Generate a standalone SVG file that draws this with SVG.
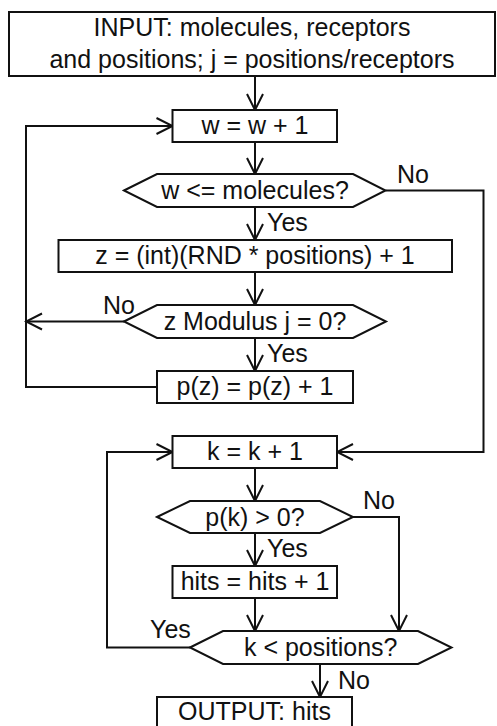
<svg xmlns="http://www.w3.org/2000/svg" width="497" height="726" viewBox="0 0 497 726">
<style>
.n{fill:#fff;stroke:#111;stroke-width:2}
.c{fill:none;stroke:#111;stroke-width:2}
text{font-family:"Liberation Sans",Arial,sans-serif;font-size:25px;fill:#111}
.m{text-anchor:middle}
</style>
<defs>
<marker id="arr" viewBox="-18 -10 20 20" refX="0" refY="0" markerWidth="20" markerHeight="20" markerUnits="userSpaceOnUse" orient="auto">
<path d="M-16,-8 L0,0 L-16,8" fill="none" stroke="#111" stroke-width="2"/>
</marker>
</defs>
<g id="connectors">
<path class="c" d="M255,76 V110" marker-end="url(#arr)"/>
<path class="c" d="M255,142 V174" marker-end="url(#arr)"/>
<path class="c" d="M255,207 V240" marker-end="url(#arr)"/>
<path class="c" d="M255,272 V305" marker-end="url(#arr)"/>
<path class="c" d="M255,338 V371" marker-end="url(#arr)"/>
<path class="c" d="M124,321.5 H26" marker-end="url(#arr)"/>
<path class="c" d="M157,387 H26 V126 H172.5" marker-end="url(#arr)"/>
<path class="c" d="M385.5,190.5 H483.5 V452 H337" marker-end="url(#arr)"/>
<path class="c" d="M255,468 V501" marker-end="url(#arr)"/>
<path class="c" d="M255,533 V566" marker-end="url(#arr)"/>
<path class="c" d="M255,598 V631" marker-end="url(#arr)"/>
<path class="c" d="M353,517 H399 V631" marker-end="url(#arr)"/>
<path class="c" d="M190,647.5 H107 V452 H172.5" marker-end="url(#arr)"/>
<path class="c" d="M320,664 V697" marker-end="url(#arr)"/>
<text x="397" y="183">No</text>
<text x="267" y="231">Yes</text>
<text x="103" y="314">No</text>
<text x="267" y="362">Yes</text>
<text x="363" y="509">No</text>
<text x="267" y="557">Yes</text>
<text x="150" y="638">Yes</text>
<text x="338" y="689">No</text>
</g>
<g id="input">
<rect class="n" x="9" y="12" width="486" height="64"/>
<text class="m" x="252" y="36">INPUT: molecules, receptors</text>
<text class="m" x="252" y="68">and positions; j = positions/receptors</text>
</g>
<g id="w_inc">
<rect class="n" x="172.5" y="110" width="164.5" height="32"/>
<text class="m" x="255" y="134">w = w + 1</text>
</g>
<g id="w_check">
<polygon class="n" points="124,190.5 157,174 353,174 385.5,190.5 353,207 157,207"/>
<text class="m" x="255" y="199">w &lt;= molecules?</text>
</g>
<g id="z_calc">
<rect class="n" x="58.5" y="240" width="393.5" height="32"/>
<text class="m" x="255" y="264">z = (int)(RND * positions) + 1</text>
</g>
<g id="z_mod">
<polygon class="n" points="124,321.5 157,305 353,305 386,321.5 353,338 157,338"/>
<text class="m" x="255" y="330">z Modulus j = 0?</text>
</g>
<g id="pz_inc">
<rect class="n" x="157" y="371" width="196" height="32"/>
<text class="m" x="255" y="395">p(z) = p(z) + 1</text>
</g>
<g id="k_inc">
<rect class="n" x="172.5" y="436" width="164.5" height="32"/>
<text class="m" x="255" y="460">k = k + 1</text>
</g>
<g id="pk_check">
<polygon class="n" points="157,517 190,501 320,501 353,517 320,533 190,533"/>
<text class="m" x="255" y="526">p(k) &gt; 0?</text>
</g>
<g id="hits_inc">
<rect class="n" x="172.5" y="566" width="164.5" height="32"/>
<text class="m" x="255" y="590">hits = hits + 1</text>
</g>
<g id="k_check">
<polygon class="n" points="190,647.5 223,631 418,631 451.5,647.5 418,664 223,664"/>
<text class="m" x="320.75" y="656">k &lt; positions?</text>
</g>
<g id="output">
<rect class="n" x="157" y="697" width="195" height="40"/>
<text class="m" x="254.5" y="720">OUTPUT: hits</text>
</g>
</svg>
